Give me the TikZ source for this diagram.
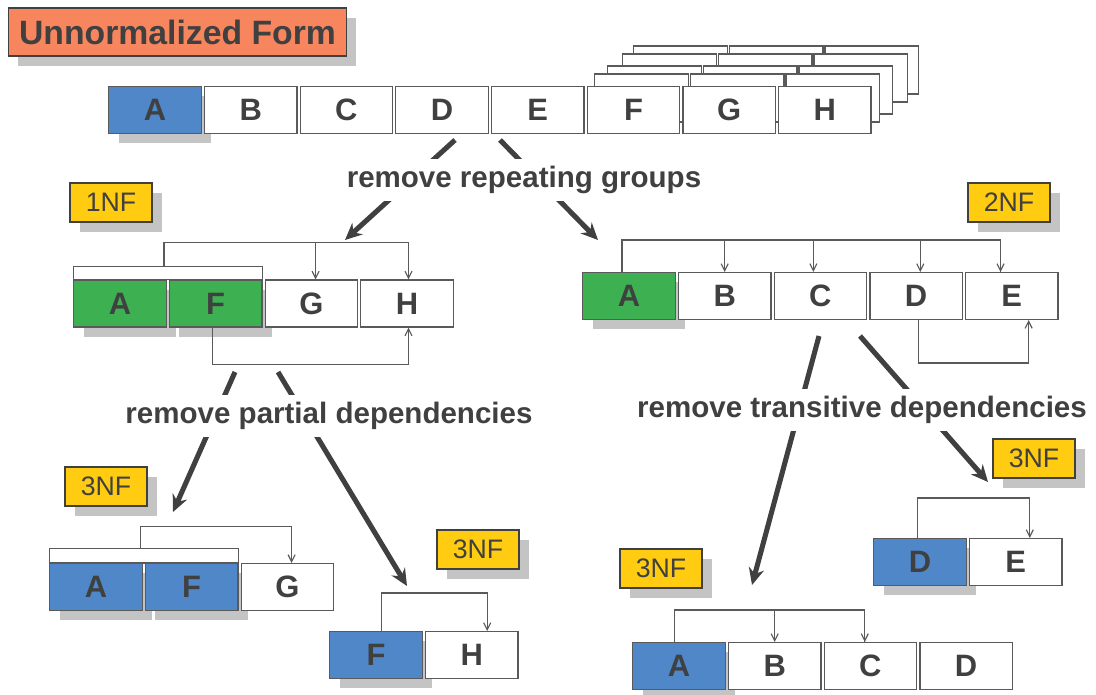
\documentclass[tikz,border=0pt]{standalone}
\usepackage{xcolor}
\usepackage{fontspec}
\setmainfont{Liberation Sans}
\usetikzlibrary{positioning,shadows,backgrounds,arrows.meta}

\definecolor{inkgray}{HTML}{404040}
\definecolor{linegray}{HTML}{5A5A5A}
\definecolor{shadegray}{HTML}{C4C4C4}
\definecolor{keyblue}{HTML}{4F87C9}
\definecolor{keygreen}{HTML}{3DB152}
\definecolor{titleorange}{HTML}{F7865F}
\definecolor{tagyellow}{HTML}{FFCC11}

\tikzset{
    shade/.style={drop shadow={shadow xshift=7pt,shadow yshift=-7pt,fill=shadegray,opacity=1}},
    cell/.style={draw=linegray,line width=0.9pt,fill=white,minimum width=2.31cm,minimum height=1.17cm,
        inner sep=0pt,text=inkgray,font=\fontsize{22}{22}\selectfont\bfseries},
    bluekey/.style={cell,fill=keyblue,shade},
    greenkey/.style={cell,fill=keygreen,shade},
    tag/.style={draw=inkgray,line width=0.9pt,fill=tagyellow,shade,minimum width=2.05cm,minimum height=0.97cm,
        inner sep=0pt,text=inkgray,font=\fontsize{19}{19}\selectfont},
    title/.style={draw=inkgray,line width=0.9pt,fill=titleorange,shade,minimum width=8.45cm,minimum height=1.2cm,
        inner sep=0pt,text=inkgray,font=\fontsize{24}{24}\selectfont\bfseries},
    ghost/.style={draw=linegray,line width=0.9pt,fill=white},
    keybar/.style={draw=linegray,line width=0.9pt,fill=white},
    dep/.style={draw=linegray,line width=0.8pt,-{Straight Barb[length=5pt,width=5pt]}},
    flow/.style={draw=inkgray,line width=3.6pt,-{Stealth[length=12pt,width=11pt,inset=4pt]}},
    step label/.style={fill=white,inner sep=5pt,text=inkgray,font=\fontsize{21}{21}\selectfont\bfseries}
}

\begin{document}
\begin{tikzpicture}[x=0.025cm,y=-0.025cm]
    \useasboundingbox (0,0) rectangle (1096,695);

    % unnormalized form
    \node[title] (title) at (177.5,32) {Unnormalized Form};
    \node[bluekey] (a0) at (155,110) {A};
    \node[cell,right=0.05cm of a0] (b0) {B};
    \node[cell,right=0.05cm of b0] (c0) {C};
    \node[cell,right=0.05cm of c0] (d0) {D};
    \node[cell,right=0.05cm of d0] (e0) {E};
    \node[cell,right=0.05cm of e0] (f0) {F};
    \node[cell,right=0.05cm of f0] (g0) {G};
    \node[cell,right=0.05cm of g0] (h0) {H};
    \begin{scope}[on background layer]
        \foreach \dx/\dy in {47/-40,36/-32,21/-20,8/-12}
            \foreach \c in {f0,g0,h0}
                \draw[ghost] ([shift={(\dx,\dy)}]\c.south west) rectangle ([shift={(\dx,\dy)}]\c.north east);
    \end{scope}

    % 1NF
    \node[tag] (nf1) at (111,202.5) {1NF};
    \node[greenkey] (a1) at (120,303.5) {A};
    \node[greenkey,right=0.05cm of a1] (f1) {F};
    \node[cell,right=0.05cm of f1] (g1) {G};
    \node[cell,right=0.05cm of g1] (h1) {H};
    \draw[keybar] (a1.north west) rectangle ([yshift=9.2pt]f1.north east);
    \coordinate (k1) at ([xshift=-2pt,yshift=9.2pt]a1.north east);
    \draw[-,draw=linegray,line width=0.8pt] (k1) -- ++(0,-24) -| ([xshift=1pt]h1.north);
    \draw[dep] ([xshift=3pt]g1.north |- 0,243) -- ([xshift=3pt]g1.north);
    \draw[dep] ([xshift=1pt]h1.north |- 0,243) -- ([xshift=1pt]h1.north);
    \draw[dep] ([xshift=-2pt]f1.south) -- ++(0,37) -| ([xshift=1pt]h1.south);

    % 2NF
    \node[tag] (nf2) at (1009,202.5) {2NF};
    \node[greenkey] (a2) at (629,296) {A};
    \node[cell,right=0.05cm of a2] (b2) {B};
    \node[cell,right=0.05cm of b2] (c2) {C};
    \node[cell,right=0.05cm of c2] (d2) {D};
    \node[cell,right=0.05cm of d2] (e2) {E};
    \draw[-,draw=linegray,line width=0.8pt] ([xshift=-5pt]a2.north) -- ++(0,-32) -| ([xshift=-8pt]e2.north);
    \draw[dep] (b2.north |- 0,241) -- (b2.north);
    \draw[dep] ([xshift=-5pt]c2.north |- 0,241) -- ([xshift=-5pt]c2.north);
    \draw[dep] ([xshift=3pt]d2.north |- 0,241) -- ([xshift=3pt]d2.north);
    \draw[dep] ([xshift=-8pt]e2.north |- 0,241) -- ([xshift=-8pt]e2.north);
    \draw[dep] ([xshift=1.5pt]d2.south) -- ++(0,43) -| ([xshift=12pt]e2.south);

    % 3NF tables
    \node[tag] (nf3a) at (106,486.5) {3NF};
    \node[bluekey] (a3) at (96,587) {A};
    \node[bluekey,right=0.05cm of a3] (f3) {F};
    \node[cell,right=0.05cm of f3] (g3) {G};
    \draw[keybar] (a3.north west) rectangle ([yshift=10.5pt]f3.north east);
    \draw[dep] ([xshift=-1.5pt,yshift=10.5pt]a3.north east) -- ++(0,-22) -| ([xshift=3pt]g3.north);

    \node[tag] (nf3b) at (478,549.5) {3NF};
    \node[bluekey] (f4) at (376,655) {F};
    \node[cell,right=0.05cm of f4] (h4) {H};
    \draw[dep] ([xshift=4pt]f4.north) -- ++(0,-38) -| ([xshift=11pt]h4.north);

    \node[tag] (nf3c) at (661,568.5) {3NF};
    \node[bluekey] (a5) at (679,666) {A};
    \node[cell,right=0.05cm of a5] (b5) {B};
    \node[cell,right=0.05cm of b5] (c5) {C};
    \node[cell,right=0.05cm of c5] (d5) {D};
    \draw[-,draw=linegray,line width=0.8pt] ([xshift=-3.5pt]a5.north) -- ++(0,-32) -| ([xshift=-4pt]c5.north);
    \draw[dep] (b5.north |- 0,611) -- (b5.north);
    \draw[dep] ([xshift=-4pt]c5.north |- 0,611) -- ([xshift=-4pt]c5.north);

    \node[tag] (nf3d) at (1034,458.5) {3NF};
    \node[bluekey] (d6) at (920,562) {D};
    \node[cell,right=0.05cm of d6] (e6) {E};
    \draw[dep] ([xshift=-2pt]d6.north) -- ++(0,-40) -| ([xshift=10pt]e6.north);

    % normalisation steps
    \coordinate (rg1) at (455,140);
    \coordinate (rg2) at (500,140);
    \coordinate (pd1) at (235,372);
    \coordinate (pd2) at (278,372);
    \coordinate (td1) at (819,336);
    \coordinate (td2) at (860,336);
    \draw[flow] (rg1) -- (345,240);
    \draw[flow] (rg2) -- (598,240);
    \draw[flow] (pd1) -- (173,512);
    \draw[flow] (pd2) -- (407,586);
    \draw[flow] (td1) -- (752,585);
    \draw[flow] (td2) -- (988,482);
    \node[step label] (rg) at (524,180) {remove repeating groups};
    \node[step label] (pd) at (329,416) {remove partial dependencies};
    \node[step label] (td) at (862,410) {remove transitive dependencies};
\end{tikzpicture}
\end{document}
